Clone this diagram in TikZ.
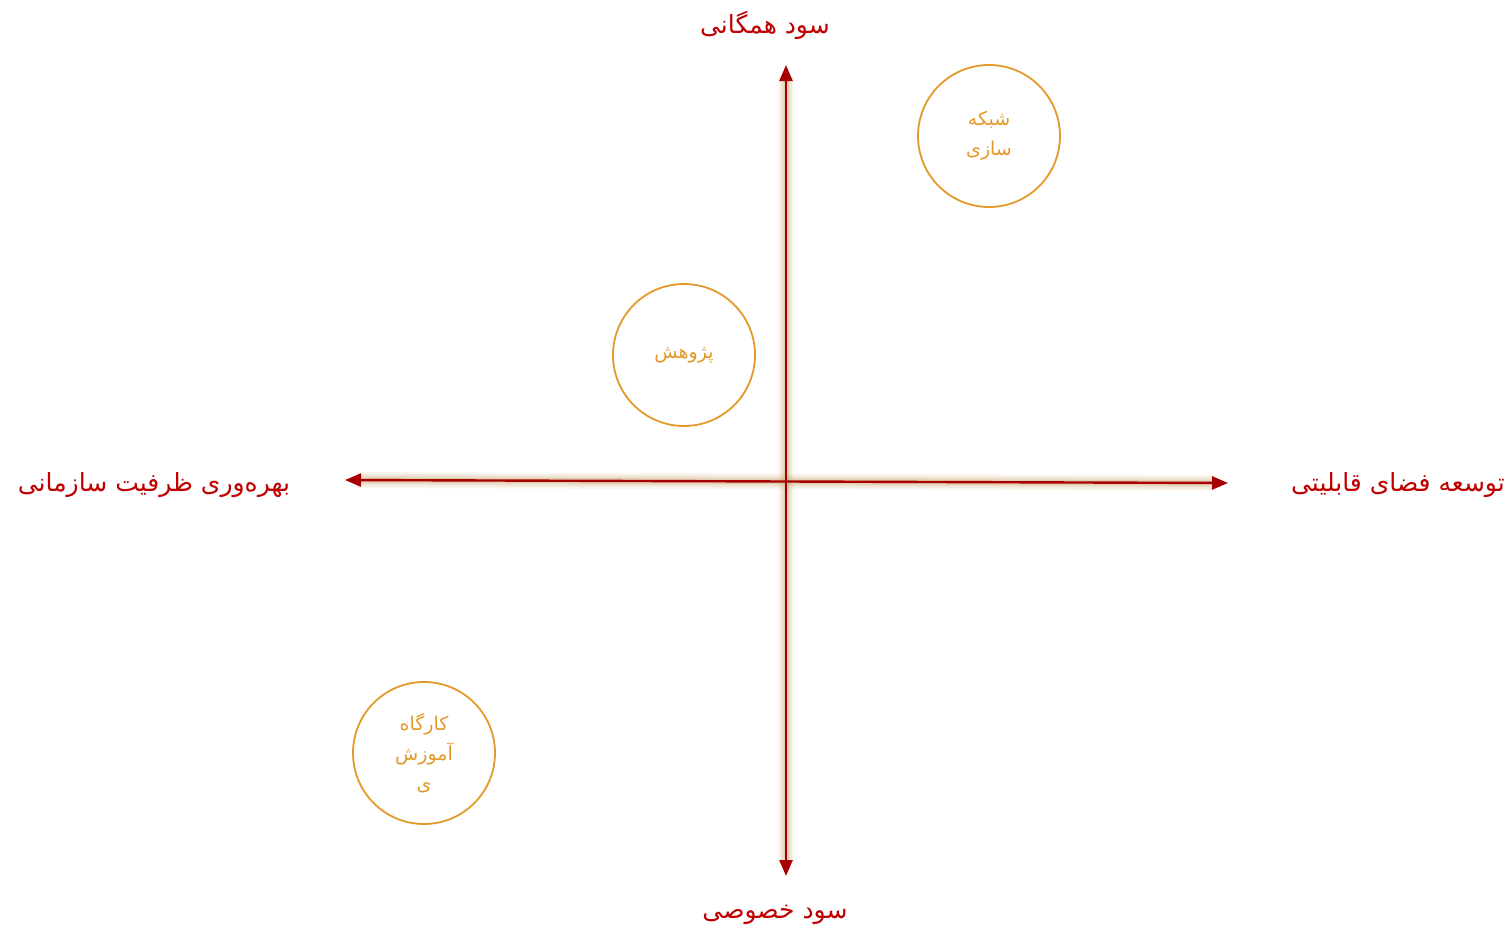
\documentclass[tikz,border=0pt]{standalone}
\usepackage{fontspec}
\TeXXeTstate=1
\newfontfamily\arabicfont[Script=Arabic]{DejaVu Sans}
\usetikzlibrary{arrows.meta}
\definecolor{axisred}{HTML}{A80000}
\definecolor{labelred}{HTML}{C00000}
\definecolor{circorange}{HTML}{E39A2A}
\definecolor{glowtan}{HTML}{C9A46E}
\tikzset{
  axislabel/.style={text=labelred,font=\arabicfont\fontsize{25}{30}\selectfont,inner sep=0pt},
  topic/.style={circle,draw=circorange,line width=1.8pt,minimum size=142pt,inner sep=0pt,
    text=circorange,align=center,font=\arabicfont\fontsize{19}{30}\selectfont},
  axisglow/.style={draw=glowtan,line cap=butt},
  axisline/.style={draw=axisred,line width=2.4pt,
    {Triangle[length=16pt,width=13pt]}-{Triangle[length=16pt,width=13pt]}},
}
\begin{document}
\begin{tikzpicture}[x=1pt,y=-1pt]
\useasboundingbox (0,0) rectangle (1510,929);
% axis end points
\coordinate (L) at (345,480);
\coordinate (R) at (1228,483);
\coordinate (T) at (786,65);
\coordinate (B) at (786,876);
% glow
\foreach \w/\o in {16/0.10,12/0.14,8/0.20,5/0.25}{
  \draw[axisglow,line width=\w pt,opacity=\o] ([xshift=12pt]L) -- ([xshift=-12pt]R);
  \draw[axisglow,line width=\w pt,opacity=\o] ([yshift=-12pt]T) -- ([yshift=12pt]B);
}
% axes
\draw[axisline] (L) -- (R);
\draw[axisline] (T) -- (B);
% axis labels
\node[axislabel] (top) at (765,25) {\beginR سود همگانی\endR};
\node[axislabel] (bottom) at (775,915) {\beginR سود خصوصی\endR};
\node[axislabel] (left) at (154,485) {\beginR بهره‌وری ظرفیت سازمانی\endR};
\node[axislabel] (right) at (1398,485) {\beginR توسعه فضای قابلیتی\endR};
% topics
\node[topic] (network) at (989,136) {\beginR شبکه\endR\\\beginR سازی\endR};
\node[topic] (research) at (684,355) {\beginR پژوهش\endR};
\node[topic] (workshop) at (424,753) {\beginR کارگاه\endR\\\beginR آموزش\endR\\\beginR ی\endR};
\end{tikzpicture}
\end{document}
